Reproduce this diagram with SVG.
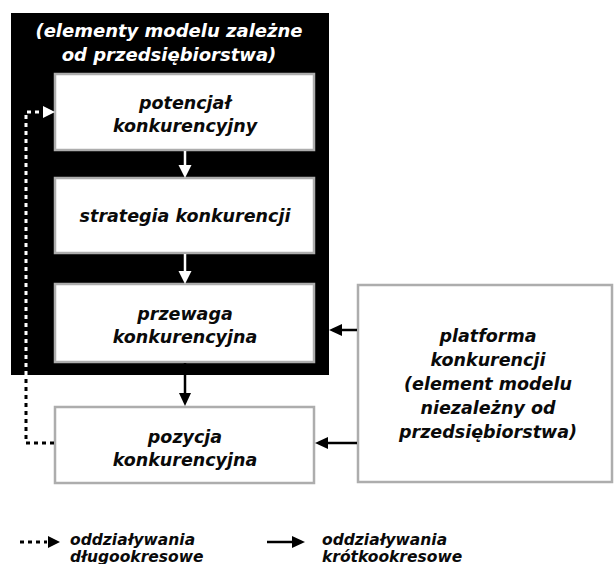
<svg xmlns="http://www.w3.org/2000/svg" width="614" height="564" viewBox="0 0 614 564">
  <style>
    .lbl { font-family: "DejaVu Sans", "Liberation Sans", sans-serif; font-weight: bold; font-style: italic; font-size: 17.5px; text-anchor: middle; fill: #0a0a0a; }
    .hdr { fill: #fff; font-size: 18px; }
    .leg { text-anchor: start; font-size: 15.5px; }
    .box { fill: #fff; stroke: #adadad; stroke-width: 2.5; }
    .solid { stroke: #000; stroke-width: 2.5; fill: none; }
    .wsolid { stroke: #fff; stroke-width: 2.5; fill: none; }
    .dash { stroke: #000; stroke-width: 3; stroke-dasharray: 4 4; fill: none; }
    .wdash { stroke: #fff; stroke-width: 3; stroke-dasharray: 4 4; fill: none; }
  </style>
  <defs>
    <clipPath id="inBlack"><rect x="11" y="13" width="318" height="362"/></clipPath>
  </defs>

  <rect width="614" height="564" fill="#fff"/>

  <!-- company-dependent elements -->
  <g id="firm-group">
    <rect x="11" y="13" width="318" height="362" fill="#000"/>
    <text class="lbl hdr" x="169" y="37">(elementy modelu zależne</text>
    <text class="lbl hdr" x="169" y="61">od przedsiębiorstwa)</text>
  </g>

  <g id="potencjal">
    <rect class="box" x="55" y="74" width="259" height="76"/>
    <text class="lbl" x="185" y="109">potencjał</text>
    <text class="lbl" x="185" y="132">konkurencyjny</text>
  </g>

  <g id="strategia">
    <rect class="box" x="55" y="178" width="259" height="75"/>
    <text class="lbl" x="185" y="222">strategia konkurencji</text>
  </g>

  <g id="przewaga">
    <rect class="box" x="55" y="284" width="259" height="78"/>
    <text class="lbl" x="185" y="320">przewaga</text>
    <text class="lbl" x="185" y="343">konkurencyjna</text>
  </g>

  <g id="pozycja">
    <rect class="box" x="55" y="407" width="259" height="76"/>
    <text class="lbl" x="185" y="443">pozycja</text>
    <text class="lbl" x="185" y="466">konkurencyjna</text>
  </g>

  <g id="platforma">
    <rect class="box" x="358" y="285" width="254" height="197"/>
    <text class="lbl" x="488" y="342">platforma</text>
    <text class="lbl" x="488" y="366">konkurencji</text>
    <text class="lbl" x="488" y="390">(element modelu</text>
    <text class="lbl" x="488" y="414">niezależny od</text>
    <text class="lbl" x="488" y="438">przedsiębiorstwa)</text>
  </g>

  <g id="connectors">
    <!-- short-term effects inside the black frame -->
    <line class="wsolid" x1="185" y1="151" x2="185" y2="166"/>
    <polygon points="178.5,165 191.5,165 185,178" fill="#fff"/>
    <line class="wsolid" x1="185" y1="254" x2="185" y2="272"/>
    <polygon points="178.5,271 191.5,271 185,284" fill="#fff"/>
    <!-- advantage to position -->
    <line class="solid" x1="185" y1="363" x2="185" y2="394"/>
    <polygon points="179,393 191,393 185,406" fill="#000"/>
    <!-- platform influences -->
    <line class="solid" x1="357" y1="330" x2="341" y2="330"/>
    <polygon points="329,330 342,324 342,336" fill="#000"/>
    <line class="solid" x1="357" y1="443" x2="327" y2="443"/>
    <polygon points="315,443 328,437 328,449" fill="#000"/>
    <!-- long-term feedback loop -->
    <path class="dash" d="M54,443 H26 V112 H44"/>
    <path class="wdash" d="M54,443 H26 V112 H44" clip-path="url(#inBlack)"/>
    <polygon points="55,112 43,106 43,118" fill="#fff"/>
  </g>

  <g id="legend">
    <path class="dash" d="M20,542 H47"/>
    <polygon points="60,542 48,536 48,548" fill="#000"/>
    <text class="lbl leg" x="70" y="545">oddziaływania</text>
    <text class="lbl leg" x="70" y="562">długookresowe</text>
    <line class="solid" x1="267" y1="542" x2="293" y2="542"/>
    <polygon points="305,542 292,536 292,548" fill="#000"/>
    <text class="lbl leg" x="322" y="545">oddziaływania</text>
    <text class="lbl leg" x="322" y="562">krótkookresowe</text>
  </g>
</svg>
